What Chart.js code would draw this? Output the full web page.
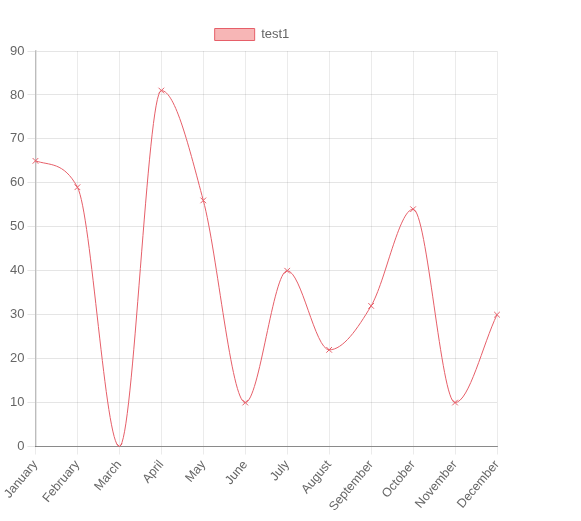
<!DOCTYPE html>
<html>
<head>
<meta charset="utf-8">
<script src="https://cdn.jsdelivr.net/npm/chart.js@4/dist/chart.umd.min.js"></script>
<style>
    body { margin: 0; background: #fff; }
    #wrap { position: absolute; left: 0; top: 18px; width: 513px; height: 499px; }
</style>
</head>
<body>
<div id="wrap"><canvas id="chart"></canvas></div>
<script>
const months = ['January', 'February', 'March', 'April', 'May', 'June',
    'July', 'August', 'September', 'October', 'November', 'December'];
const test1 = [65, 59, 0, 81, 56, 10, 40, 22, 32, 54, 10, 30];
const yMin = 0;
const yMax = 90;
const yStep = 10;

document.addEventListener('DOMContentLoaded', function() {
    Chart.defaults.font.family = '"Liberation Sans", Arial, sans-serif';
    Chart.defaults.font.size = 13;
    Chart.defaults.color = '#666';

    const ctx = document.getElementById('chart').getContext('2d');
    new Chart(ctx, {
        type: 'line',
        data: {
            labels: months,
            datasets: [{
                label: 'test1',
                data: test1,
                fill: false,
                borderColor: 'rgb(230, 95, 105)',
                backgroundColor: 'rgba(240, 110, 110, 0.5)',
                borderWidth: 1,
                pointStyle: 'crossRot',
                pointRadius: 4,
                pointBorderColor: 'rgb(230, 95, 105)',
                pointBorderWidth: 1,
                cubicInterpolationMode: 'monotone'
            }]
        },
        options: {
            responsive: true,
            maintainAspectRatio: false,
            animation: false,
            layout: { padding: { left: 7, right: 16 } },
            plugins: {
                legend: {
                    labels: { boxWidth: 40, boxHeight: 12 }
                },
                tooltip: { enabled: false }
            },
            scales: {
                x: {
                    grid: { color: 'rgba(0,0,0,0.08)' },
                    border: { color: 'rgba(0,0,0,0.4)' },
                    ticks: { maxRotation: 50, minRotation: 50, font: { size: 12.5 } }
                },
                y: {
                    min: yMin,
                    max: yMax,
                    ticks: { stepSize: yStep },
                    grid: { color: 'rgba(0,0,0,0.1)' },
                    border: { color: 'rgba(0,0,0,0.2)', width: 1.5 }
                }
            }
        }
    });
});
</script>
</body>
</html>
